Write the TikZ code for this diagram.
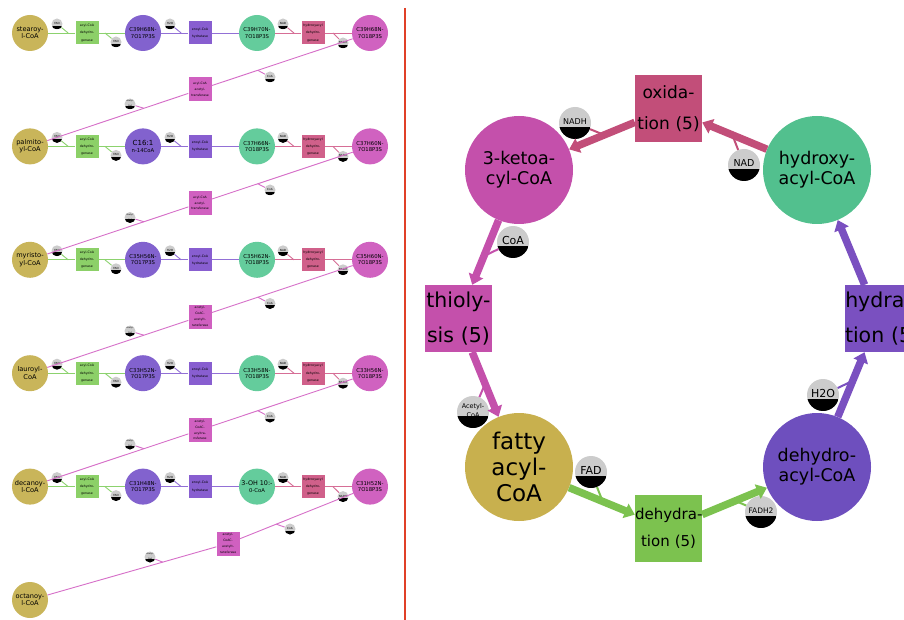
\documentclass[tikz,border=0pt]{standalone}
\usepackage{fontspec}
\setmainfont{DejaVu Sans}
\usetikzlibrary{calc,arrows.meta}
\definecolor{olv}{RGB}{201,181,90}
\definecolor{pM}{RGB}{130,98,206}
\definecolor{gM}{RGB}{100,204,156}
\definecolor{mM}{RGB}{208,98,192}
\definecolor{gE}{RGB}{140,208,104}
\definecolor{pE}{RGB}{136,94,208}
\definecolor{rE}{RGB}{208,96,138}
\definecolor{mE}{RGB}{208,96,192}
\definecolor{gLc}{RGB}{140,210,110}
\definecolor{pLc}{RGB}{146,112,214}
\definecolor{rLc}{RGB}{214,110,150}
\definecolor{mLc}{RGB}{214,110,200}
\definecolor{oxC}{RGB}{194,78,121}
\definecolor{ketC}{RGB}{196,80,171}
\definecolor{hydC}{RGB}{82,192,142}
\definecolor{thC}{RGB}{196,80,171}
\definecolor{hyC}{RGB}{122,80,192}
\definecolor{faC}{RGB}{200,176,78}
\definecolor{dhC}{RGB}{110,79,190}
\definecolor{deC}{RGB}{124,194,79}
\definecolor{cofg}{RGB}{204,204,204}
\definecolor{sepr}{RGB}{224,64,40}
\newcommand{\cl}[2]{\raisebox{#1}{#2}}
\newcommand{\fbrow}[6]{%
\node[metA,fill=olv] (A#1) at (30,#2) {#3};
\node[enz,fill=gE] (Ea#1) at (87,#2) {acyl-CoA\\dehydro-\\genase};
\node[met,fill=pM] (B#1) at (143,#2) {#4};
\node[enz,fill=pE] (Eb#1) at (200,#2) {enoyl-CoA\\hydratase};
\node[met,fill=gM] (C#1) at (257,#2) {#5};
\node[enz,fill=rE] (Ec#1) at (313,#2) {hydroxyacyl\\dehydro-\\genase};
\node[met,fill=mM] (D#1) at (370,#2) {#6};
\node[cof] (fa#1) at (57,#2-9) {\cl{1pt}{FAD}};
\node[cof] (fb#1) at (116,#2+9) {\cl{1pt}{FAD}};
\node[cof] (hw#1) at (170,#2-9) {\cl{1pt}{H2O}};
\node[cof] (na#1) at (283,#2-9) {\cl{1pt}{NAD}};
\node[cof] (nh#1) at (343,#2+10) {\cl{1pt}{NADH}};
\draw[lnk,gLc] (A#1) -- (Ea#1) -- (B#1);
\draw[lnk,pLc] (B#1) -- (Eb#1) -- (C#1);
\draw[lnk,rLc] (C#1) -- (Ec#1) -- (D#1);
\coordinate (ta#1) at ($(A#1)!0.67!(Ea#1)$);
\coordinate (tb#1) at ($(Ea#1)!0.32!(B#1)$);
\coordinate (tw#1) at ($(B#1)!0.67!(Eb#1)$);
\coordinate (tn#1) at ($(C#1)!0.66!(Ec#1)$);
\coordinate (th#1) at ($(Ec#1)!0.35!(D#1)$);
\draw[lnk,gLc] (fa#1) -- (ta#1);
\draw[lnk,gLc] (fb#1) -- (tb#1);
\draw[lnk,pLc] (hw#1) -- (tw#1);
\draw[lnk,rLc] (na#1) -- (tn#1);
\draw[lnk,rLc] (nh#1) -- (th#1);
}
\newcommand{\fbtr}[6]{%
\node[enz4,fill=mE] (T#1) at (#3) {#4};
\node[cof] (co#1) at (#5) {\cl{1pt}{CoA}};
\node[cof,font=\fontsize{2}{2.2}\selectfont] (ac#1) at (#6) {\cl{1pt}{\shortstack{Acetyl-\\CoA}}};
\draw[lnk,mLc] (D#1) -- (T#1) -- (A#2);
\coordinate (tc#1) at ($(D#1)!0.66!(T#1)$);
\coordinate (tac#1) at ($(T#1)!0.33!(A#2)$);
\draw[lnk,mLc] (co#1) -- (tc#1);
\draw[lnk,mLc] (ac#1) -- (tac#1);
}
\begin{document}
\begin{tikzpicture}[x=1pt,y=-1pt,
  met/.style={circle,minimum size=36pt,inner sep=0pt,align=center,font=\fontsize{5.3}{6.2}\selectfont},
  metA/.style={met,font=\fontsize{6.6}{7.4}\selectfont},
  enz/.style={rectangle,minimum width=23pt,minimum height=23pt,inner sep=0pt,align=center,font=\fontsize{3.2}{7.2}\selectfont},
  enz4/.style={enz,minimum height=24pt,font=\fontsize{3.1}{5.8}\selectfont},
  cof/.style={circle,fill=cofg,minimum size=11pt,inner sep=0pt,align=center,font=\fontsize{2.8}{3}\selectfont,
    path picture={\fill[black] (path picture bounding box.south west) rectangle ($(path picture bounding box.south east)!0.36!(path picture bounding box.north east)$);}},
  rcof/.style={cof,minimum size=32pt},
  lnk/.style={line width=0.9pt},
  rmet/.style={circle,minimum size=108pt,inner sep=0pt,align=center,font=\fontsize{17.5}{20}\selectfont},
  rbox/.style={rectangle,minimum width=67pt,minimum height=67pt,text width=67pt,inner sep=0pt,align=center},
  big/.style={line width=7.5pt,-{Triangle[width=15pt,length=10pt]}},
  tick/.style={line width=2pt}]
\clip (0,0) rectangle (904,620);
\fill[white] (0,0) rectangle (904,620);
% ---------------- left panel ----------------
\fbrow{1}{33}{stearoy-\\l-CoA}{C39H68N-\\7O17P3S}{C39H70N-\\7O18P3S}{C39H68N-\\7O18P3S}
\fbrow{2}{146.4}{palmito-\\yl-CoA}{\fontsize{7}{7.8}\selectfont C16:1\\n-14CoA}{C37H66N-\\7O18P3S}{C37H60N-\\7O18P3S}
\fbrow{3}{259.8}{myristo-\\yl-CoA}{C35H56N-\\7O17P3S}{C35H62N-\\7O18P3S}{C35H60N-\\7O18P3S}
\fbrow{4}{373.2}{lauroyl-\\CoA}{C33H52N-\\7O17P3S}{C33H58N-\\7O18P3S}{C33H56N-\\7O18P3S}
\fbrow{5}{486.6}{decanoy-\\l-CoA}{C31H48N-\\7O17P3S}{\fontsize{6.4}{7.2}\selectfont 3-OH 10:-\\0-CoA}{C31H52N-\\7O18P3S}
\node[metA,fill=olv] (A6) at (30,600) {octanoy-\\l-CoA};
\fbtr{1}{2}{200,89.5}{acyl-CoA\\acetyl-\\transferase}{270,77}{130,104}
\fbtr{2}{3}{200,203}{acyl-CoA\\acetyl-\\transferase}{270,190}{130,217.5}
\fbtr{3}{4}{200,316.5}{acetyl-\\CoAC-\\acetylt-\\ransferase}{270,303.5}{130,331}
\fbtr{4}{5}{200,430}{acetyl-\\CoAC-\\acyltra-\\nsferase}{270,417}{130,444}
\fbtr{5}{6}{228,543.5}{acetyl-\\CoAC-\\acetylt-\\ransferase}{290,529}{150,557}
% separator
\draw[sepr,line width=1.8pt] (405,8) -- (405,620);
% ---------------- right panel ----------------
\node[rbox,fill=oxC,font=\fontsize{17}{31}\selectfont] (oxi) at (668.5,108.5) {\mbox{oxida-}\\\mbox{tion (5)}};
\node[rmet,fill=ketC] (keto) at (519,170) {3-ketoa-\\cyl-CoA};
\node[rmet,fill=hydC] (hydx) at (817,170) {hydroxy-\\acyl-CoA};
\node[rbox,fill=thC,font=\fontsize{20.5}{35}\selectfont] (thio) at (458.5,318.5) {\mbox{thioly-}\\\mbox{sis (5)}};
\node[rbox,fill=hyC,font=\fontsize{20.5}{35}\selectfont] (hydra) at (878.5,318.5) {\mbox{hydra-}\\\mbox{tion (5)}};
\node[rmet,fill=faC,font=\fontsize{23}{26}\selectfont] (fatty) at (519,467) {fatty\\acyl-\\CoA};
\node[rmet,fill=dhC] (dhac) at (817,467) {dehydro-\\acyl-CoA};
\node[rbox,fill=deC,font=\fontsize{15}{27}\selectfont] (dhyd) at (668.5,528.5) {\mbox{dehydra-}\\\mbox{tion (5)}};
\node[rcof,font=\fontsize{8}{9}\selectfont] (nadh) at (575,123) {\cl{3pt}{NADH}};
\node[rcof,font=\fontsize{9.5}{10}\selectfont] (nad) at (744,165) {\cl{4pt}{NAD}};
\node[rcof,font=\fontsize{11}{12}\selectfont] (coa) at (513,242) {\cl{3pt}{CoA}};
\node[rcof,font=\fontsize{6.5}{7}\selectfont] (acoa) at (473,412) {\cl{3pt}{\shortstack{Acetyl-\\CoA}}};
\node[rcof,font=\fontsize{11}{12}\selectfont] (fad) at (591,472) {\cl{3pt}{FAD}};
\node[rcof,font=\fontsize{7.5}{8}\selectfont] (fadh) at (761,512) {\cl{3pt}{FADH2}};
\node[rcof,font=\fontsize{11}{12}\selectfont] (hto) at (823,395) {\cl{3pt}{H2O}};
\coordinate (r1) at ($(hydx)!0.57!(oxi)$);
\coordinate (r2) at ($(oxi)!0.43!(keto)$);
\coordinate (r3) at ($(keto)!0.58!(thio)$);
\coordinate (r4) at ($(thio)!0.44!(fatty)$);
\coordinate (r5) at ($(fatty)!0.56!(dhyd)$);
\coordinate (r6) at ($(dhyd)!0.45!(dhac)$);
\coordinate (r7) at ($(dhac)!0.58!(hydra)$);
\draw[tick,oxC] (nad) -- (r1);
\draw[tick,oxC] (nadh) -- (r2);
\draw[tick,thC] (coa) -- (r3);
\draw[tick,thC] (acoa) -- (r4);
\draw[tick,deC] (fad) -- (r5);
\draw[tick,deC] (fadh) -- (r6);
\draw[tick,hyC] (hto) -- (r7);
\draw[big,oxC] (hydx) -- (oxi);
\draw[big,oxC] (oxi) -- (keto);
\draw[big,thC] (keto) -- (thio);
\draw[big,thC] (thio) -- (fatty);
\draw[big,deC] (fatty) -- (dhyd);
\draw[big,deC] (dhyd) -- (dhac);
\draw[big,hyC] (dhac) -- (hydra);
\draw[big,hyC] (hydra) -- (hydx);
\end{tikzpicture}
\end{document}
